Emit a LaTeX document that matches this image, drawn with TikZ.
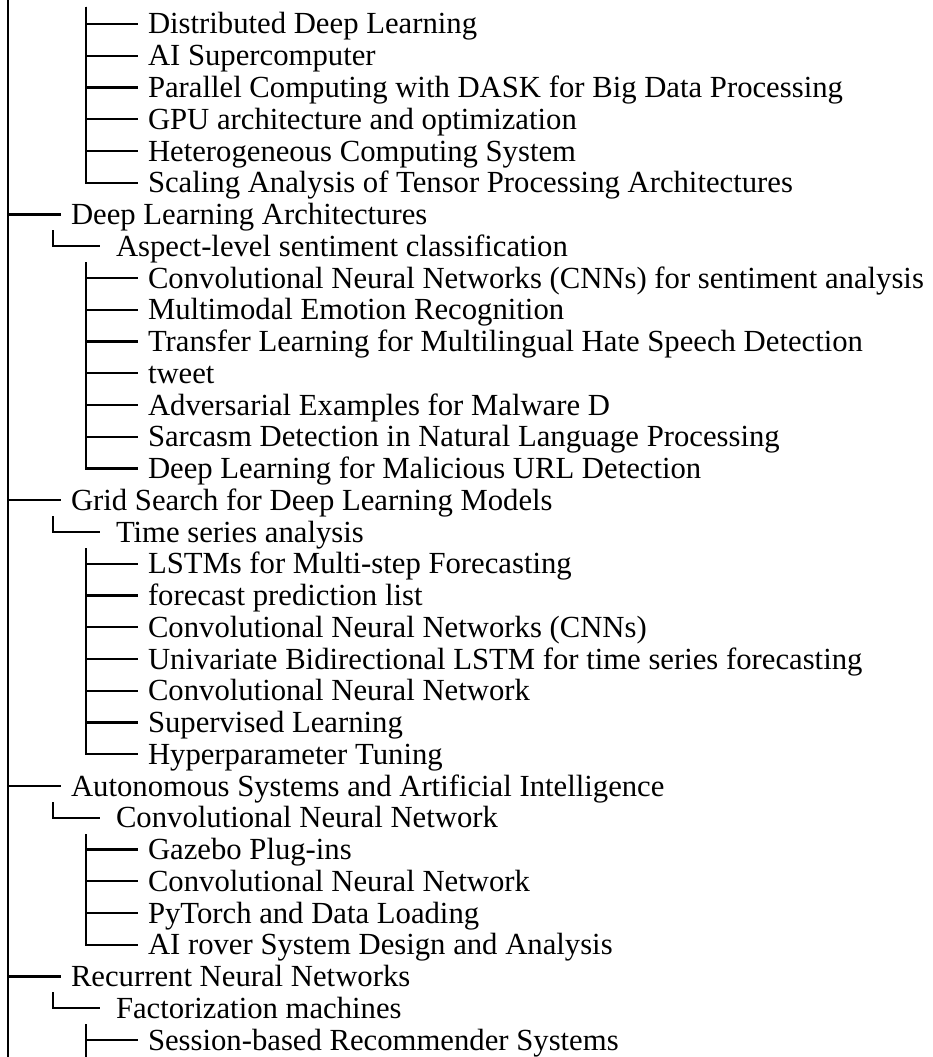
\documentclass[tikz,border=0pt]{standalone}
\usepackage{fontspec}
\setmainfont{Liberation Serif}
\begin{document}
\begin{tikzpicture}[x=1pt,y=-1pt,line width=2pt,
  lab/.style={anchor=west,inner ysep=0pt,text height=20pt,text depth=0pt,font=\fontsize{30.7}{33}\selectfont},
  labA/.style={lab,inner xsep=9pt},
  labB/.style={lab,inner xsep=15pt},
  labC/.style={lab,inner xsep=9pt},
  conn/.style={draw=black,line width=2.2pt}]
\useasboundingbox (0,0) rectangle (932,1057);
% trunk
\coordinate (trunkTop) at (8,0);
\coordinate (trunkBot) at (8,1057);
\draw[conn] (trunkTop) -- (trunkBot);
% group 1 (level 3)
\coordinate (g1) at (86,7);
\node[labC] (n0) at (138,24) {Distributed Deep Learning};
\node[labC] (n1) at (138,55.75) {AI Supercomputer};
\node[labC] (n2) at (138,87.5) {Parallel Computing with DASK for Big Data Processing};
\node[labC] (n3) at (138,119.25) {GPU architecture and optimization};
\node[labC] (n4) at (138,151) {Heterogeneous Computing System};
\node[labC] (n5) at (138,182.75) {Scaling Analysis of Tensor Processing Architectures};
\foreach \n in {n0,n1,n2,n3,n4,n5} \draw[conn] (g1) |- (\n);
% Deep Learning Architectures
\coordinate (t6) at (8,214.5);
\node[labA] (n6) at (61,214.5) {Deep Learning Architectures};
\draw[conn] (t6) -- (n6);
\coordinate (c7) at (53,230);
\node[labB] (n7) at (100,246.25) {Aspect-level sentiment classification};
\draw[conn] (c7) |- (n7);
\coordinate (g2) at (86,262);
\node[labC] (n8) at (138,278) {Convolutional Neural Networks (CNNs) for sentiment analysis};
\node[labC] (n9) at (138,309.75) {Multimodal Emotion Recognition};
\node[labC] (n10) at (138,341.5) {Transfer Learning for Multilingual Hate Speech Detection};
\node[labC] (n11) at (138,373.25) {tweet};
\node[labC] (n12) at (138,405) {Adversarial Examples for Malware D};
\node[labC] (n13) at (138,436.75) {Sarcasm Detection in Natural Language Processing};
\node[labC] (n14) at (138,468.5) {Deep Learning for Malicious URL Detection};
\foreach \n in {n8,n9,n10,n11,n12,n13,n14} \draw[conn] (g2) |- (\n);
% Grid Search
\coordinate (t15) at (8,500.25);
\node[labA] (n15) at (61,500.25) {Grid Search for Deep Learning Models};
\draw[conn] (t15) -- (n15);
\coordinate (c16) at (53,516);
\node[labB] (n16) at (100,532) {Time series analysis};
\draw[conn] (c16) |- (n16);
\coordinate (g3) at (86,548);
\node[labC] (n17) at (138,563.75) {LSTMs for Multi-step Forecasting};
\node[labC] (n18) at (138,595.5) {forecast prediction list};
\node[labC] (n19) at (138,627.25) {Convolutional Neural Networks (CNNs)};
\node[labC] (n20) at (138,659) {Univariate Bidirectional LSTM for time series forecasting};
\node[labC] (n21) at (138,690.75) {Convolutional Neural Network};
\node[labC] (n22) at (138,722.5) {Supervised Learning};
\node[labC] (n23) at (138,754.25) {Hyperparameter Tuning};
\foreach \n in {n17,n18,n19,n20,n21,n22,n23} \draw[conn] (g3) |- (\n);
% Autonomous
\coordinate (t24) at (8,786);
\node[labA] (n24) at (61,786) {Autonomous Systems and Artificial Intelligence};
\draw[conn] (t24) -- (n24);
\coordinate (c25) at (53,802);
\node[labB] (n25) at (100,817.75) {Convolutional Neural Network};
\draw[conn] (c25) |- (n25);
\coordinate (g4) at (86,834);
\node[labC] (n26) at (138,849.5) {Gazebo Plug-ins};
\node[labC] (n27) at (138,881.25) {Convolutional Neural Network};
\node[labC] (n28) at (138,913) {PyTorch and Data Loading};
\node[labC] (n29) at (138,944.75) {AI rover System Design and Analysis};
\foreach \n in {n26,n27,n28,n29} \draw[conn] (g4) |- (\n);
% Recurrent
\coordinate (t30) at (8,976.5);
\node[labA] (n30) at (61,976.5) {Recurrent Neural Networks};
\draw[conn] (t30) -- (n30);
\coordinate (c31) at (53,992);
\node[labB] (n31) at (100,1008.25) {Factorization machines};
\draw[conn] (c31) |- (n31);
\coordinate (g5) at (86,1024);
\coordinate (g5b) at (86,1057);
\node[labC] (n32) at (138,1040) {Session-based Recommender Systems};
\draw[conn] (g5) |- (n32);
\draw[conn] (g5) -- (g5b);
\end{tikzpicture}
\end{document}
